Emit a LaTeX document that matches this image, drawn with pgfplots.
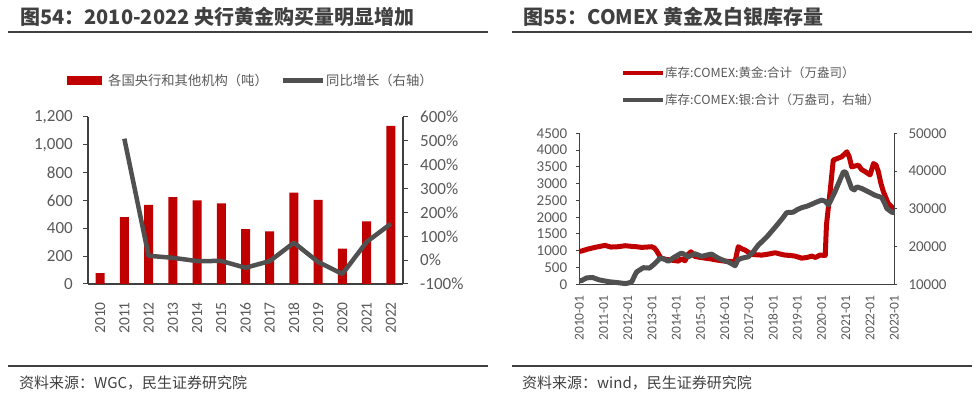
\documentclass[border=0pt]{standalone}
\usepackage{pgfplots}
\pgfplotsset{compat=1.18}
\usepackage{fontspec}
\setmainfont{Carlito}
\newfontfamily\cjk{Noto Sans CJK SC}
\definecolor{cred}{HTML}{C00000}
\definecolor{cgray}{HTML}{505050}
\definecolor{c40}{HTML}{404040}
\definecolor{c59}{HTML}{595959}
\pgfplotsset{
  base/.style={scale only axis, /pgf/number format/assume math mode=true,
    tick align=outside, axis line style={c40, line width=1.3pt},
    major tick style={c40, line width=1pt},
    x tick style={draw=none}, tick label style={text=c59},
    scaled ticks=false, clip=false},
}
\begin{document}
\begin{tikzpicture}[x=1pt,y=1pt]
\path[use as bounding box] (0,0) rectangle (977,395);
% ---------------- Left panel ----------------
\node[anchor=base west, inner sep=0pt, text=c40, font=\cjk\bfseries\fontsize{20}{24}\selectfont] at (20,370) {图54：2010-2022 央行黄金购买量明显增加};
\draw[c40, line width=2pt] (8,362.5) -- (488,362.5);
\fill[cred] (67,310) rectangle (102,319);
\node[anchor=west, inner sep=0pt, text=c59, font=\cjk\fontsize{13.3}{15}\selectfont] at (108,314.5) {各国央行和其他机构（吨）};
\draw[cgray, line width=4.5pt] (283,314.5) -- (323,314.5);
\node[anchor=west, inner sep=0pt, text=c59, font=\cjk\fontsize{13.3}{15}\selectfont] at (326,314.5) {同比增长（右轴）};
\draw[c40, line width=2pt] (8,29) -- (488,29);
\node[anchor=west, inner sep=0pt, text=c40, font=\cjk\fontsize{15}{16}\selectfont] at (19,12) {资料来源：WGC，民生证券研究院};

\begin{axis}[base, at={(88pt,111pt)}, anchor=south west, width=315pt, height=167pt,
  xmin=-0.5, xmax=12.5, ymin=0, ymax=1200, ytick={0,200,...,1200},
  axis x line*=bottom, axis y line*=left, major tick length=5pt,
  xtick={0,...,12}, xticklabels={2010,2011,2012,2013,2014,2015,2016,2017,2018,2019,2020,2021,2022},
  x tick label style={rotate=90, anchor=east, inner sep=0pt, xshift=-13pt, font=\fontsize{15.5}{16}\selectfont},
  y tick label style={anchor=east, inner sep=0pt, xshift=-10pt, font=\fontsize{17}{18}\selectfont},
  /pgf/number format/1000 sep={,}]
\addplot[ybar, bar width=9pt, fill=cred, draw=none] coordinates {
(0,79) (1,481) (2,569) (3,625) (4,601) (5,580) (6,395) (7,379) (8,656) (9,605) (10,255) (11,450) (12,1136)};
\end{axis}
\begin{axis}[base, at={(88pt,111pt)}, anchor=south west, width=315pt, height=167pt,
  xmin=-0.5, xmax=12.5, ymin=-100, ymax=600, ytick={-100,0,...,600},
  axis x line=none, axis y line*=right, major tick length=5pt,
  yticklabel={\pgfmathprintnumber{\tick}\%},
  y tick label style={anchor=west, inner sep=0pt, xshift=12pt, font=\fontsize{17}{18}\selectfont}]
\addplot[cgray, line width=4.5pt, line join=round] coordinates {
(1,509) (2,18.3) (3,9.8) (4,-3.8) (5,-3.5) (6,-31.9) (7,-4.1) (8,73.1) (9,-7.8) (10,-57.9) (11,76.5) (12,152.4)};
\end{axis}

% ---------------- Right panel ----------------
\node[anchor=base west, inner sep=0pt, text=c40, font=\cjk\bfseries\fontsize{20}{24}\selectfont] at (523,370) {图55：COMEX 黄金及白银库存量};
\draw[c40, line width=2pt] (512,362.5) -- (972,362.5);
\draw[cred, line width=4pt] (623,322) -- (663,322);
\node[anchor=west, inner sep=0pt, text=c59, font=\cjk\fontsize{12.5}{15}\selectfont] at (665,322) {库存:COMEX:黄金:合计（万盎司）};
\draw[cgray, line width=4pt] (623,295) -- (663,295);
\node[anchor=west, inner sep=0pt, text=c59, font=\cjk\fontsize{12.5}{15}\selectfont] at (665,295) {库存:COMEX:银:合计（万盎司，右轴）};
\draw[c40, line width=2pt] (512,29) -- (972,29);
\node[anchor=west, inner sep=0pt, text=c40, font=\cjk\fontsize{15}{16}\selectfont] at (522,12) {资料来源：wind，民生证券研究院};

\begin{axis}[base, at={(579.3pt,110.7pt)}, anchor=south west, width=315pt, height=151pt,
  xmin=2010, xmax=2023, ymin=0, ymax=4500, ytick={0,500,...,4500},
  axis x line*=bottom, axis y line*=left, major tick length=3pt,
  xtick={2010,...,2023},
  xticklabels={2010-01,2011-01,2012-01,2013-01,2014-01,2015-01,2016-01,2017-01,2018-01,2019-01,2020-01,2021-01,2022-01,2023-01},
  x tick label style={rotate=90, anchor=east, inner sep=0pt, xshift=-8pt, font=\fontsize{13.5}{14}\selectfont},
  y tick label style={anchor=east, inner sep=0pt, xshift=-9pt, font=\fontsize{15}{16}\selectfont},
  /pgf/number format/1000 sep={}]
\addplot[cred, line width=5pt, line join=round] coordinates {
(2010.0,980) (2010.1,992) (2010.35,1050) (2010.65,1100) (2011.06,1160) (2011.3,1110) (2011.61,1120) (2011.9,1150) (2012.16,1130) (2012.35,1120) (2012.57,1100) (2012.8,1110) (2012.99,1120) (2013.1,1080) (2013.19,1000) (2013.37,780) (2013.6,740) (2013.81,720) (2014.09,690) (2014.2,760) (2014.36,700) (2014.5,900) (2014.61,970) (2014.77,830) (2015.0,800) (2015.19,780) (2015.4,760) (2015.6,730) (2015.9,700) (2016.15,680) (2016.43,680) (2016.56,1120) (2016.7,1060) (2016.84,1020) (2017.11,890) (2017.3,880) (2017.53,870) (2017.8,900) (2018.08,940) (2018.3,900) (2018.49,870) (2018.7,860) (2018.9,840) (2019.18,780) (2019.4,800) (2019.59,840) (2019.75,800) (2019.93,870) (2020.15,860) (2020.2,1770) (2020.35,2760) (2020.48,3700) (2020.65,3750) (2020.83,3800) (2021.04,3950) (2021.14,3800) (2021.24,3500) (2021.4,3530) (2021.52,3550) (2021.65,3420) (2021.79,3360) (2022.0,3260) (2022.08,3450) (2022.14,3600) (2022.25,3550) (2022.34,3360) (2022.45,3000) (2022.55,2760) (2022.75,2410) (2022.96,2260) (2023.0,2250)};
\end{axis}
\begin{axis}[base, at={(579.3pt,110.7pt)}, anchor=south west, width=315pt, height=151pt,
  xmin=2010, xmax=2023, ymin=10000, ymax=50000, ytick={10000,20000,...,50000},
  axis x line=none, axis y line*=right, major tick length=3pt,
  y tick label style={anchor=west, inner sep=0pt, xshift=11pt, font=\fontsize{15}{16}\selectfont},
  /pgf/number format/1000 sep={}]
\addplot[cgray, line width=5pt, line join=round] coordinates {
(2010.0,10900) (2010.1,11000) (2010.3,11700) (2010.55,11800) (2010.8,11200) (2011.2,10700) (2011.5,10500) (2011.89,10200) (2012.0,10300) (2012.16,10600) (2012.3,12500) (2012.37,13300) (2012.64,14400) (2012.9,14300) (2013.12,15500) (2013.33,16900) (2013.5,16700) (2013.67,16100) (2013.95,17300) (2014.22,18300) (2014.5,17300) (2014.77,18100) (2015.05,17400) (2015.3,17800) (2015.46,18000) (2015.74,16900) (2016.0,16200) (2016.15,15900) (2016.3,15400) (2016.43,14900) (2016.55,16500) (2016.7,16900) (2016.98,17300) (2017.2,18800) (2017.39,20400) (2017.6,21700) (2017.8,23000) (2018.0,24500) (2018.21,26100) (2018.4,27600) (2018.56,29000) (2018.83,29100) (2019.0,29800) (2019.18,30300) (2019.4,30700) (2019.59,31200) (2019.8,31800) (2020.0,32300) (2020.15,32000) (2020.28,31000) (2020.4,32500) (2020.55,34500) (2020.75,37500) (2020.9,39800) (2021.0,39700) (2021.04,38900) (2021.24,35400) (2021.35,35000) (2021.45,35800) (2021.65,35400) (2021.93,34500) (2022.2,33600) (2022.48,33000) (2022.6,31500) (2022.69,30100) (2022.89,29100) (2023.0,29000)};
\end{axis}
\end{tikzpicture}
\end{document}
